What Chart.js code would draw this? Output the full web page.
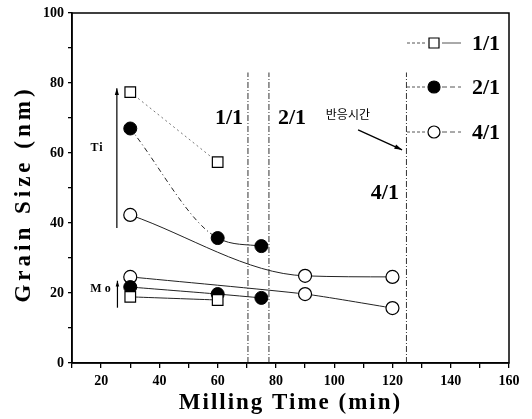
<!DOCTYPE html>
<html>
<head>
<meta charset="utf-8">
<script src="https://cdn.jsdelivr.net/npm/chart.js@4"></script>
<style>
  html, body { margin:0; padding:0; background:#fff; }
  #wrap { width:532px; height:419px; }
</style>
</head>
<body>
<div id="wrap"><canvas id="c" width="532" height="419"></canvas></div>
<script>
// milling time (min) and grain size (nm)
const time11 = [30, 60];
const time21 = [30, 60, 75];
const time41 = [30, 90, 120];
const ti11 = [77.4, 57.4];
const ti21 = [67, 35.7, 33.4];
const ti41 = [42.3, 24.9, 24.6];
const mo11 = [18.9, 18];
const mo21 = [21.7, 19.7, 18.6];
const mo41 = [24.6, 19.7, 15.7];
// reaction time limits for 1/1, 2/1, 4/1
const reactionTimes = [70.4, 77.6, 124.8];
const reactionTop = 83;
const ratioLabels = ['1/1', '2/1', '4/1'];

const pts = (xs, ys) => xs.map((v, i) => ({ x: v, y: ys[i] }));
const serif = '"Liberation Serif", "DejaVu Serif", serif';

const sq = { pointStyle:'rect', pointRadius:7.5, pointBackgroundColor:'#fff', pointBorderColor:'#000', pointBorderWidth:1.2 };
const dot = { pointStyle:'circle', pointRadius:6.5, pointBackgroundColor:'#000', pointBorderColor:'#000', pointBorderWidth:1 };
const ring = { pointStyle:'circle', pointRadius:6.5, pointBackgroundColor:'#fff', pointBorderColor:'#000', pointBorderWidth:1.2 };

const datasets = [
  Object.assign({ data: pts(time11, ti11), borderColor:'#777', borderWidth:1, borderDash:[2,3], tension:0 }, sq),
  Object.assign({ data: pts(time21, ti21), borderColor:'#222', borderWidth:1, cubicInterpolationMode:'monotone',
    segment:{ borderDash: c => c.p0DataIndex === 0 ? [5,3,1,3] : undefined } }, dot),
  Object.assign({ data: pts(time41, ti41), borderColor:'#222', borderWidth:1, cubicInterpolationMode:'monotone' }, ring),
  Object.assign({ data: pts(time11, mo11), borderColor:'#222', borderWidth:1, tension:0.2 }, sq),
  Object.assign({ data: pts(time21, mo21), borderColor:'#222', borderWidth:1, tension:0.2 }, dot),
  Object.assign({ data: pts(time41, mo41), borderColor:'#222', borderWidth:1, tension:0.2 }, ring)
];
reactionTimes.forEach(t => datasets.unshift({
  data:[{x:t, y:0}, {x:t, y:reactionTop}], borderColor:'#333', borderWidth:1,
  borderDash:[6,2,1,2], pointRadius:0
}));

function arrow(ctx, x1, y1, x2, y2, head){
  ctx.beginPath(); ctx.moveTo(x1, y1); ctx.lineTo(x2, y2); ctx.stroke();
  const a = Math.atan2(y2 - y1, x2 - x1);
  ctx.beginPath();
  ctx.moveTo(x2, y2);
  ctx.lineTo(x2 - head * Math.cos(a - 0.3), y2 - head * Math.sin(a - 0.3));
  ctx.lineTo(x2 - head * Math.cos(a + 0.3), y2 - head * Math.sin(a + 0.3));
  ctx.closePath(); ctx.fill();
}

const decor = {
  id:'decor',
  afterDraw(chart){
    const { ctx, chartArea:a, scales:{ x, y } } = chart;
    ctx.save();
    ctx.strokeStyle = '#000'; ctx.fillStyle = '#000';
    ctx.lineWidth = 1.5;
    ctx.strokeRect(a.left, a.top, a.width, a.height);

    // axis titles
    ctx.textAlign = 'center'; ctx.textBaseline = 'middle';
    ctx.font = 'bold 23px ' + serif;
    ctx.letterSpacing = '2px';
    ctx.fillText('Milling Time (min)', (a.left + a.right) / 2, 403);
    ctx.save();
    ctx.letterSpacing = '4px';
    ctx.translate(24, (a.top + a.bottom) / 2 + 6);
    ctx.rotate(-Math.PI / 2);
    ctx.fillText('Grain Size (nm)', 0, 0);
    ctx.restore();
    ctx.letterSpacing = '0px';

    // ratio labels beside the reaction time lines
    ctx.font = 'bold 22px ' + serif;
    ctx.fillText(ratioLabels[0], x.getPixelForValue(63.9), y.getPixelForValue(70));
    ctx.fillText(ratioLabels[1], x.getPixelForValue(85.5), y.getPixelForValue(70));
    ctx.fillText(ratioLabels[2], x.getPixelForValue(117.4), y.getPixelForValue(48.6));

    ctx.font = '12px "Noto Sans CJK KR", sans-serif';
    ctx.fillText('반응시간', x.getPixelForValue(104.7), y.getPixelForValue(71));
    ctx.lineWidth = 1.3;
    arrow(ctx, x.getPixelForValue(108.2), y.getPixelForValue(66.6), x.getPixelForValue(123.3), y.getPixelForValue(60.9), 8);

    // Ti / Mo arrows
    ctx.font = 'bold 12px ' + serif;
    ctx.letterSpacing = '1px';
    ctx.fillText('Ti', x.getPixelForValue(18.6), y.getPixelForValue(61.4));
    ctx.letterSpacing = '3px';
    ctx.fillText('Mo', x.getPixelForValue(20.3), y.getPixelForValue(21.1));
    ctx.letterSpacing = '0px';
    ctx.lineWidth = 1.2;
    arrow(ctx, x.getPixelForValue(25.4), y.getPixelForValue(38.6), x.getPixelForValue(25.4), y.getPixelForValue(78.5), 7);
    arrow(ctx, x.getPixelForValue(25.6), y.getPixelForValue(15.8), x.getPixelForValue(25.6), y.getPixelForValue(23.5), 6);

    // legend
    const lx = 407, rows = [43, 87, 132];
    const styles = [sq, dot, ring];
    ctx.font = 'bold 22px ' + serif;
    ctx.textAlign = 'left';
    rows.forEach((ry, i) => {
      ctx.strokeStyle = '#555'; ctx.lineWidth = 1;
      ctx.setLineDash([3, 2]);
      ctx.beginPath(); ctx.moveTo(lx, ry); ctx.lineTo(lx + 20, ry); ctx.stroke();
      ctx.setLineDash(i === 0 ? [] : [5, 3]);
      ctx.beginPath(); ctx.moveTo(lx + 35, ry); ctx.lineTo(lx + 54, ry); ctx.stroke();
      ctx.setLineDash([]);
      const s = styles[i];
      ctx.fillStyle = s.pointBackgroundColor; ctx.strokeStyle = '#000'; ctx.lineWidth = 1.2;
      ctx.beginPath();
      if (s.pointStyle === 'rect') ctx.rect(lx + 22, ry - 5, 10, 10);
      else ctx.arc(lx + 27, ry, 6, 0, Math.PI * 2);
      ctx.fill(); ctx.stroke();
      ctx.fillStyle = '#000';
      ctx.fillText(ratioLabels[i], lx + 65, ry + 1);
    });
    ctx.restore();
  }
};

new Chart(document.getElementById('c'), {
  type:'line',
  data:{ datasets },
  options:{
    responsive:false,
    animation:false,
    layout:{ padding:{ top:13, right:23, left:0, bottom:0 } },
    plugins:{ legend:{ display:false }, tooltip:{ enabled:false } },
    scales:{
      x:{
        type:'linear', min:10, max:160,
        afterFit: s => { s.height = 56; },
        ticks:{ stepSize:10, autoSkip:false, maxRotation:0, color:'#000', padding:5,
          font:{ family:serif, size:14, weight:'bold' },
          callback: v => v % 20 === 0 ? v : '' },
        grid:{ drawOnChartArea:false, drawTicks:true, tickLength:5, color:'#000', lineWidth:1.3 },
        border:{ display:true, color:'#000', width:1.5 }
      },
      y:{
        type:'linear', min:0, max:100,
        afterFit: s => { s.width = 72; },
        ticks:{ stepSize:10, autoSkip:false, color:'#000', padding:4,
          font:{ family:serif, size:14, weight:'bold' },
          callback: v => v % 20 === 0 ? v : '' },
        grid:{ drawOnChartArea:false, drawTicks:true, tickLength:4, color:'#000', lineWidth:1.3 },
        border:{ display:true, color:'#000', width:1.5 }
      }
    }
  },
  plugins:[decor]
});
</script>
</body>
</html>
